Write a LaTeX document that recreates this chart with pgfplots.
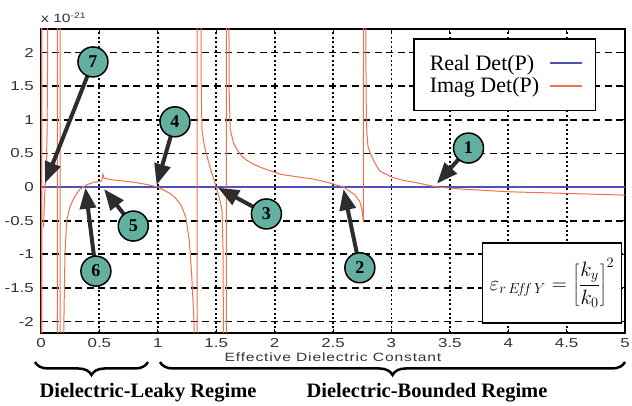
\documentclass[border=0pt]{standalone}
\usepackage{pgfplots}
\pgfplotsset{compat=1.18}
\usepackage{pgfplotstable}
\usepackage{fontspec}
\setmainfont{Liberation Serif}
\setsansfont{Liberation Sans}
\newfontfamily\ticksf[FakeStretch=1.3]{Liberation Sans}
\newfontfamily\labsf[FakeStretch=1.3,LetterSpace=7]{Liberation Sans}
\newfontfamily\legserif{Liberation Serif}
\usetikzlibrary{arrows.meta,decorations.pathreplacing}
\definecolor{imagc}{RGB}{240,112,80}
\definecolor{realc}{RGB}{80,80,185}
\definecolor{circc}{RGB}{100,176,160}
\definecolor{arrc}{RGB}{45,45,45}

\pgfplotstableread{
x y
0.000 0
5.000 0
}\realdata

\pgfplotstableread{
x y
0.003 -10
0.006 10
0.010 -10
nan nan
0.022 -0.6
0.030 -0.15
0.037 0.05
0.045 0.25
0.052 0.8
0.057 2.0
0.061 10
nan nan
0.138 10
0.141 -10
nan nan
0.162 -10
0.165 10
nan nan
0.190 -10
0.196 -2.0
0.205 -1.0
0.220 -0.5
0.250 -0.28
0.290 -0.14
0.330 -0.04
0.360 0.0
0.400 0.04
0.450 0.07
0.490 0.08
0.520 0.09
0.530 0.19
0.540 0.13
0.600 0.11
0.700 0.09
0.800 0.07
0.900 0.04
1.000 0.00
1.100 -0.09
1.150 -0.16
1.200 -0.27
1.240 -0.45
1.270 -0.8
1.290 -1.3
1.310 -2.0
1.320 -10
nan nan
1.335 -10
1.338 10
nan nan
1.368 10
1.372 1.5
1.378 0.85
1.400 0.6
1.430 0.4
1.460 0.22
1.500 0.00
1.530 -0.18
1.550 -0.35
1.560 -1.0
1.565 -10
nan nan
1.585 -10
1.590 10
nan nan
1.605 10
1.610 1.5
1.620 0.85
1.650 0.65
1.680 0.55
1.720 0.46
1.760 0.40
1.830 0.33
1.900 0.28
2.050 0.19
2.200 0.15
2.330 0.12
2.450 0.07
2.530 0.03
2.590 0.00
2.640 -0.06
2.690 -0.12
2.730 -0.22
2.750 -0.35
2.760 -0.52
2.765 10
nan nan
2.780 10
2.782 1.8
2.785 1.15
2.790 0.8
2.800 0.6
2.820 0.5
2.860 0.35
2.900 0.24
3.000 0.15
3.100 0.1
3.200 0.07
3.390 0.00
3.600 -0.03
4.000 -0.07
4.500 -0.095
5.000 -0.12
}\imagdata

\begin{document}
\begin{tikzpicture}
\begin{axis}[
  name=ax,
  scale only axis,
  width=584pt, height=304pt,
  xmin=0, xmax=5, ymin=-2.17, ymax=2.35,
  xtick={0,0.5,1,1.5,2,2.5,3,3.5,4,4.5,5},
  xticklabels={0,0.5,1,1.5,2,2.5,3,3.5,4,4.5,5},
  ytick={-2,-1.5,-1,-0.5,0,0.5,1,1.5,2},
  yticklabels={-2,-1.5,-1,-0.5,0,0.5,1,1.5,2},
  ticklabel style={font=\ticksf\fontsize{13}{15}\selectfont, text=black!80},
  xticklabel style={anchor=center, yshift=-10pt},
  yticklabel style={anchor=east, inner sep=0pt, xshift=-7pt},
  grid=major,
  every axis grid/.style={black, line width=1.8pt},
  every major grid/.style={black, line width=1.8pt},
  x grid style={black, line width=1.8pt, dash pattern=on 2pt off 2.6pt},
  y grid style={black, line width=1.8pt, dash pattern=on 7pt off 4.5pt},
  axis line style={black, line width=1.2pt},
  tick align=inside, major tick length=4pt,
  tick style={black, line width=1pt},
  xlabel={Effective Dielectric Constant},
  xlabel style={font=\labsf\fontsize{12}{14}\selectfont, at={(axis description cs:0.5,0)}, anchor=center, yshift=-24pt, text=black!80},
  unbounded coords=jump,
  legend style={at={(0.951,0.970)}, anchor=north east, draw=black, line width=1.5pt,
    font=\legserif\fontsize{22}{24}\selectfont, inner xsep=12pt, inner ysep=13pt,
    nodes={inner xsep=4pt, inner ysep=3pt, font=\legserif\fontsize{22}{24}\selectfont},
    legend plot pos=right, row sep=0pt, column sep=6pt},
  legend cell align=left,
  legend image code/.code={\draw[#1, line width=2.5pt] (0pt,0pt) -- (32pt,0pt);},
]
\addplot[realc, line width=1.6pt] table[x=x,y=y] {\realdata};
\addlegendentry{Real Det(P)}
\addplot[imagc, line width=1pt] table[x=x,y=y] {\imagdata};
\addlegendentry{Imag Det(P)}

% formula box
\node[draw=black, line width=1.5pt, fill=white, minimum width=139pt, minimum height=80pt, inner sep=1pt, font=\fontsize{21}{24}\selectfont]
  at (axis cs:4.375,-1.43) {$\varepsilon_{r\,E\!f\!f\,Y} = \left[\displaystyle\frac{k_y}{k_0}\right]^{2}$};

% arrows
\begin{scope}[line width=4pt, draw=arrc, -{Triangle[length=21pt,width=16pt]}]
\draw (axis cs:0.445,1.86) -- (axis cs:0.035,0.06);
\draw (axis cs:1.147,0.97) -- (axis cs:0.99,0.03);
\draw (axis cs:0.47,-1.25) -- (axis cs:0.38,-0.01);
\draw (axis cs:0.79,-0.58) -- (axis cs:0.54,-0.03);
\draw (axis cs:1.93,-0.40) -- (axis cs:1.515,-0.01);
\draw (axis cs:2.73,-1.2) -- (axis cs:2.59,-0.03);
\draw (axis cs:3.66,0.58) -- (axis cs:3.39,0.05);
\end{scope}
% circles
\begin{scope}[every node/.style={circle, draw=black, line width=1.5pt, fill=circc, minimum size=30pt, inner sep=0pt, font=\bfseries\fontsize{18}{18}\selectfont}]
\node at (axis cs:0.445,1.86) {7};
\node at (axis cs:1.147,0.97) {4};
\node at (axis cs:0.47,-1.25) {6};
\node at (axis cs:0.79,-0.58) {5};
\node at (axis cs:1.93,-0.40) {3};
\node at (axis cs:2.73,-1.2) {2};
\node at (axis cs:3.66,0.58) {1};
\end{scope}
\end{axis}

\node[anchor=base west, inner sep=0pt, font=\ticksf\fontsize{12}{14}\selectfont, text=black!80] at ([yshift=6pt]ax.north west) {x 10\textsuperscript{-21}};

% braces
\draw[line width=2.5pt, decorate, decoration={brace, mirror, amplitude=13pt}]
  ([xshift=-6pt, yshift=-29pt]ax.south west) -- ([xshift=107pt, yshift=-29pt]ax.south west);
\draw[line width=2.5pt, decorate, decoration={brace, mirror, amplitude=13pt}]
  ([xshift=119pt, yshift=-29pt]ax.south west) -- ([xshift=584pt, yshift=-29pt]ax.south west);
\node[font=\bfseries\fontsize{20.5}{24}\selectfont] at ([xshift=107pt, yshift=-60pt]ax.south west) {Dielectric-Leaky Regime};
\node[font=\bfseries\fontsize{20.5}{24}\selectfont] at ([xshift=386pt, yshift=-60pt]ax.south west) {Dielectric-Bounded Regime};

\pgfresetboundingbox
\path[use as bounding box] ([xshift=-41pt,yshift=-73pt]ax.south west) rectangle ([xshift=7pt,yshift=29pt]ax.north east);
\end{tikzpicture}
\end{document}
